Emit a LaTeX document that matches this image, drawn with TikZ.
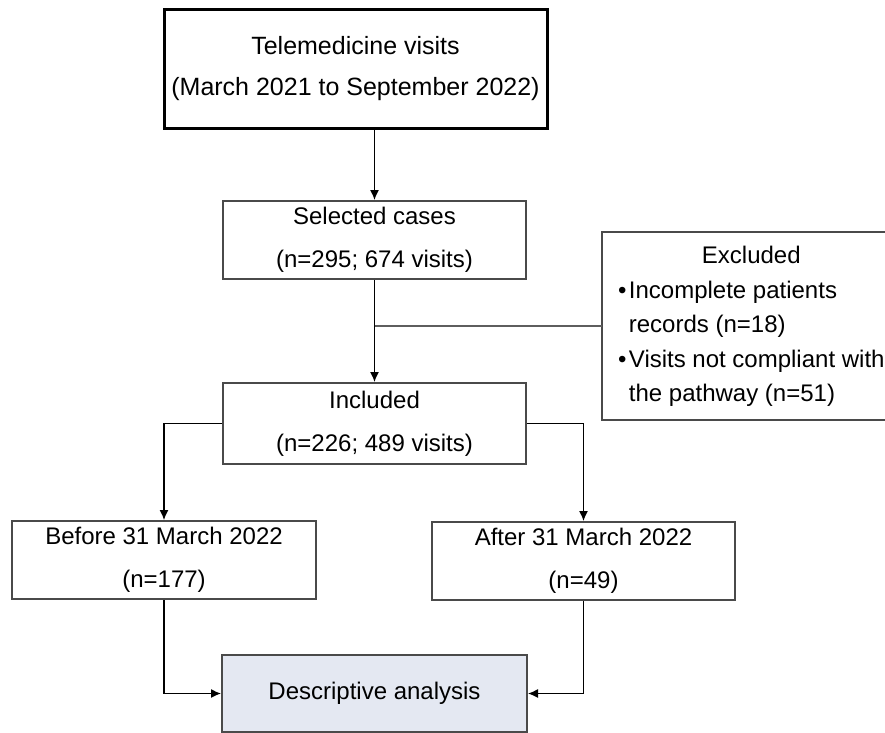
\documentclass[tikz,border=0pt]{standalone}
\usepackage{fontspec}
\setmainfont{Liberation Sans}
\usetikzlibrary{arrows.meta}
\usepackage{xcolor}
\definecolor{boxgray}{HTML}{4A4A4A}
\definecolor{linegray}{HTML}{5E5E5E}
\definecolor{paleblue}{HTML}{E4E8F2}

\begin{document}
\begin{tikzpicture}[x=1pt,y=-1pt]
\par
\tikzstyle{stage}=[draw=boxgray, line width=2pt, inner sep=0pt, align=center, font=\fontsize{24}{43}\selectfont]
\tikzstyle{flow}=[-{Latex[length=10pt,width=9pt]}, line width=1.3pt]
\useasboundingbox (0,0) rectangle (885,732);
\node[stage, draw=black, line width=3pt, minimum width=383pt, minimum height=119pt, font=\fontsize{25}{41}\selectfont] (visits) at (355.5,68.5) {Telemedicine visits\\(March 2021 to September 2022)};
\node[stage, minimum width=303pt, minimum height=78pt] (selected) at (374.5,240) {Selected cases\\(n=295; 674 visits)};
\node[stage, minimum width=303pt, minimum height=81pt] (included) at (374.5,423.5) {Included\\(n=226; 489 visits)};
% box runs off the right edge, so only three sides are drawn
\node[stage, draw=none, anchor=west, inner xsep=15pt, minimum height=186pt, font=\fontsize{24}{34.5}\selectfont] (excluded) at (602,326)
    {\begin{tabular}{@{}l@{\hspace{2.5pt}}l@{}}
     \multicolumn{2}{c}{Excluded}\\
     \textbullet & Incomplete patients\\
                 & records (n=18)\\
     \textbullet & Visits not compliant with\\
                 & the pathway (n=51)
     \end{tabular}};
\draw[boxgray, line width=2pt] (excluded.north east) -- (excluded.north west) -- (excluded.south west) -- (excluded.south east);
\par
\node[stage, minimum width=304pt, minimum height=78pt] (before) at (164,560) {Before 31 March 2022\\(n=177)};
\node[stage, minimum width=303pt, minimum height=78pt] (after) at (583.5,561) {After 31 March 2022\\(n=49)};
\node[stage, fill=paleblue, minimum width=305pt, minimum height=77pt] (analysis) at (374.5,693.5) {Descriptive analysis};
\par
\draw[flow] (visits.south -| selected.north) -- (selected.north);
\draw[flow] (selected.south) -- (included.north);
\draw[linegray, line width=1.3pt] (selected.south |- excluded.west) -- (excluded.west);
\draw[flow] (included.west) -| (before.north);
\draw[flow] (included.east) -| (after.north);
\draw[flow] (before.south) |- (analysis.west);
\draw[flow] (after.south) |- (analysis.east);
\par
\end{tikzpicture}
\end{document}
